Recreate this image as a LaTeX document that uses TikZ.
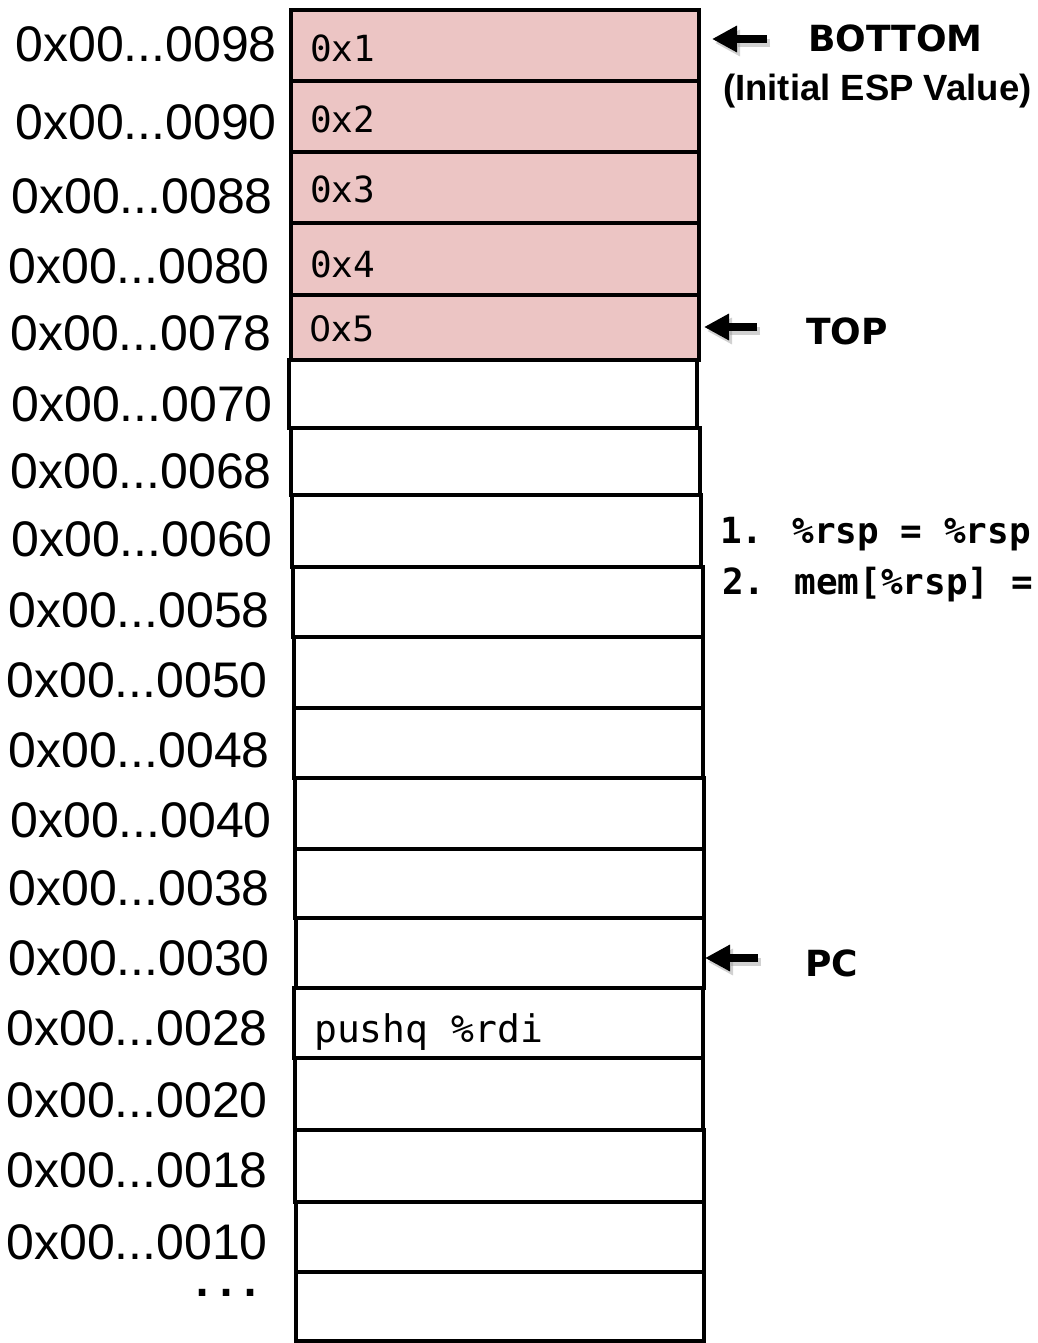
\documentclass[tikz,border=0pt]{standalone}
\usepackage{fontspec}
\setmainfont{Liberation Sans}
\newfontfamily\addrfont{Liberation Sans}
\newfontfamily\codefont{DejaVu Sans Mono}
\newfontfamily\labfont{DejaVu Sans}
\usetikzlibrary{arrows.meta}
\definecolor{stackpink}{RGB}{236,197,196}
\tikzset{
  cell/.style={draw=black, line width=4.5pt, rectangle, inner sep=0pt, outer sep=0pt, anchor=north west},
  addr/.style={anchor=base east, inner sep=0pt, font=\addrfont\fontsize{50}{50}\selectfont},
  code/.style={anchor=base west, inner sep=0pt, font=\codefont\fontsize{36}{36}\selectfont},
  tag/.style={anchor=base west, inner sep=0pt, font=\labfont\bfseries\fontsize{36}{36}\selectfont},
  bigarrow/.style={line width=8pt, -{Triangle[length=25pt,width=25pt]}},
  shadowarrow/.style={line width=8pt, draw=black!45, opacity=0.4, -{Triangle[length=25pt,width=25pt]}},
}
\begin{document}
\begin{tikzpicture}[x=1pt,y=-1pt]
\useasboundingbox[fill=white] (0,0) rectangle (1038,1343);
% cells: index/top/bottom/left/right/fill
\foreach \i/\t/\b/\l/\r/\c in {
  1/10/81/291/699/stackpink,
  2/81/152/291/699/stackpink,
  3/152/223/291/699/stackpink,
  4/223/295/291/699/stackpink,
  5/295/360/291/699/stackpink,
  6/360/428/289/697/white,
  7/428/495/291/700/white,
  8/495/567/292/701/white,
  9/567/637/293/703/white,
  10/637/708/294/703/white,
  11/708/778/294/703/white,
  12/778/849/295/704/white,
  13/849/918/295/704/white,
  14/918/988/296/704/white,
  15/988/1058/294/703/white,
  16/1058/1130/295/703/white,
  17/1130/1202/295/704/white,
  18/1202/1272/296/704/white,
  19/1272/1341/296/704/white}
{
  \pgfmathsetmacro{\w}{\r-\l}
  \pgfmathsetmacro{\h}{\b-\t}
  \node[cell, fill=\c, minimum width=\w pt, minimum height=\h pt] (r\i) at (\l,\t) {};
}
% cell contents
\node[code] (v1) at (310,62) {0x1};
\node[code] (v2) at (310,133) {0x2};
\node[code] (v3) at (310,203) {0x3};
\node[code] (v4) at (310,277) {0x4};
\node[anchor=base west, inner sep=0pt, font=\labfont\fontsize{35}{35}\selectfont] (v5) at (309,341) {0x5};
\node[code, font=\codefont\fontsize{38}{38}\selectfont] (ins) at (314,1042) {pushq \%rdi};
% addresses
\foreach \n/\a/\x/\y in {
  a1/0098/277/62, a2/0090/277/140, a3/0088/273/213, a4/0080/270/283,
  a5/0078/272/350, a6/0070/273/421, a7/0068/272/488, a8/0060/273/556,
  a9/0058/270/627, a10/0050/268/697, a11/0048/270/767, a12/0040/272/837,
  a13/0038/270/905, a14/0030/270/975, a15/0028/268/1045, a16/0020/268/1117,
  a17/0018/268/1187, a18/0010/268/1259}
{
  \node[addr] (\n) at (\x,\y) {0x00...\a};
}
\node[anchor=base west, inner sep=0pt, font=\codefont\bfseries\fontsize{40}{40}\selectfont] (dots) at (190,1296) {...};
% labels
\node[tag] (lbottom) at (808,52) {BOTTOM};
\node[anchor=base west, inner sep=0pt, font=\addrfont\bfseries\fontsize{36.5}{36.5}\selectfont] (lesp) at (723,101) {(Initial ESP Value)};
\node[tag] (ltop) at (806,344) {TOP};
\node[tag] (lpc) at (805,976) {PC};
% arrows
\coordinate (bt) at (767,39);  \coordinate (bh) at (712,39);
\coordinate (tt) at (757,327); \coordinate (th) at (704,327);
\coordinate (pt) at (758,958); \coordinate (ph) at (705,958);
\foreach \s/\e in {bt/bh, tt/th, pt/ph}{
  \draw[shadowarrow] ([shift={(3,4)}]\s) -- ([shift={(3,4)}]\e);
  \draw[bigarrow] (\s) -- (\e);
}
% pushq semantics
\node[code, font=\codefont\bfseries\fontsize{36}{36}\selectfont] (s1) at (720,543) {1. \%rsp = \%rsp};
\node[code, font=\codefont\bfseries\fontsize{36}{36}\selectfont] (s2) at (722,594) {2. mem[\%rsp] =};
\end{tikzpicture}
\end{document}
